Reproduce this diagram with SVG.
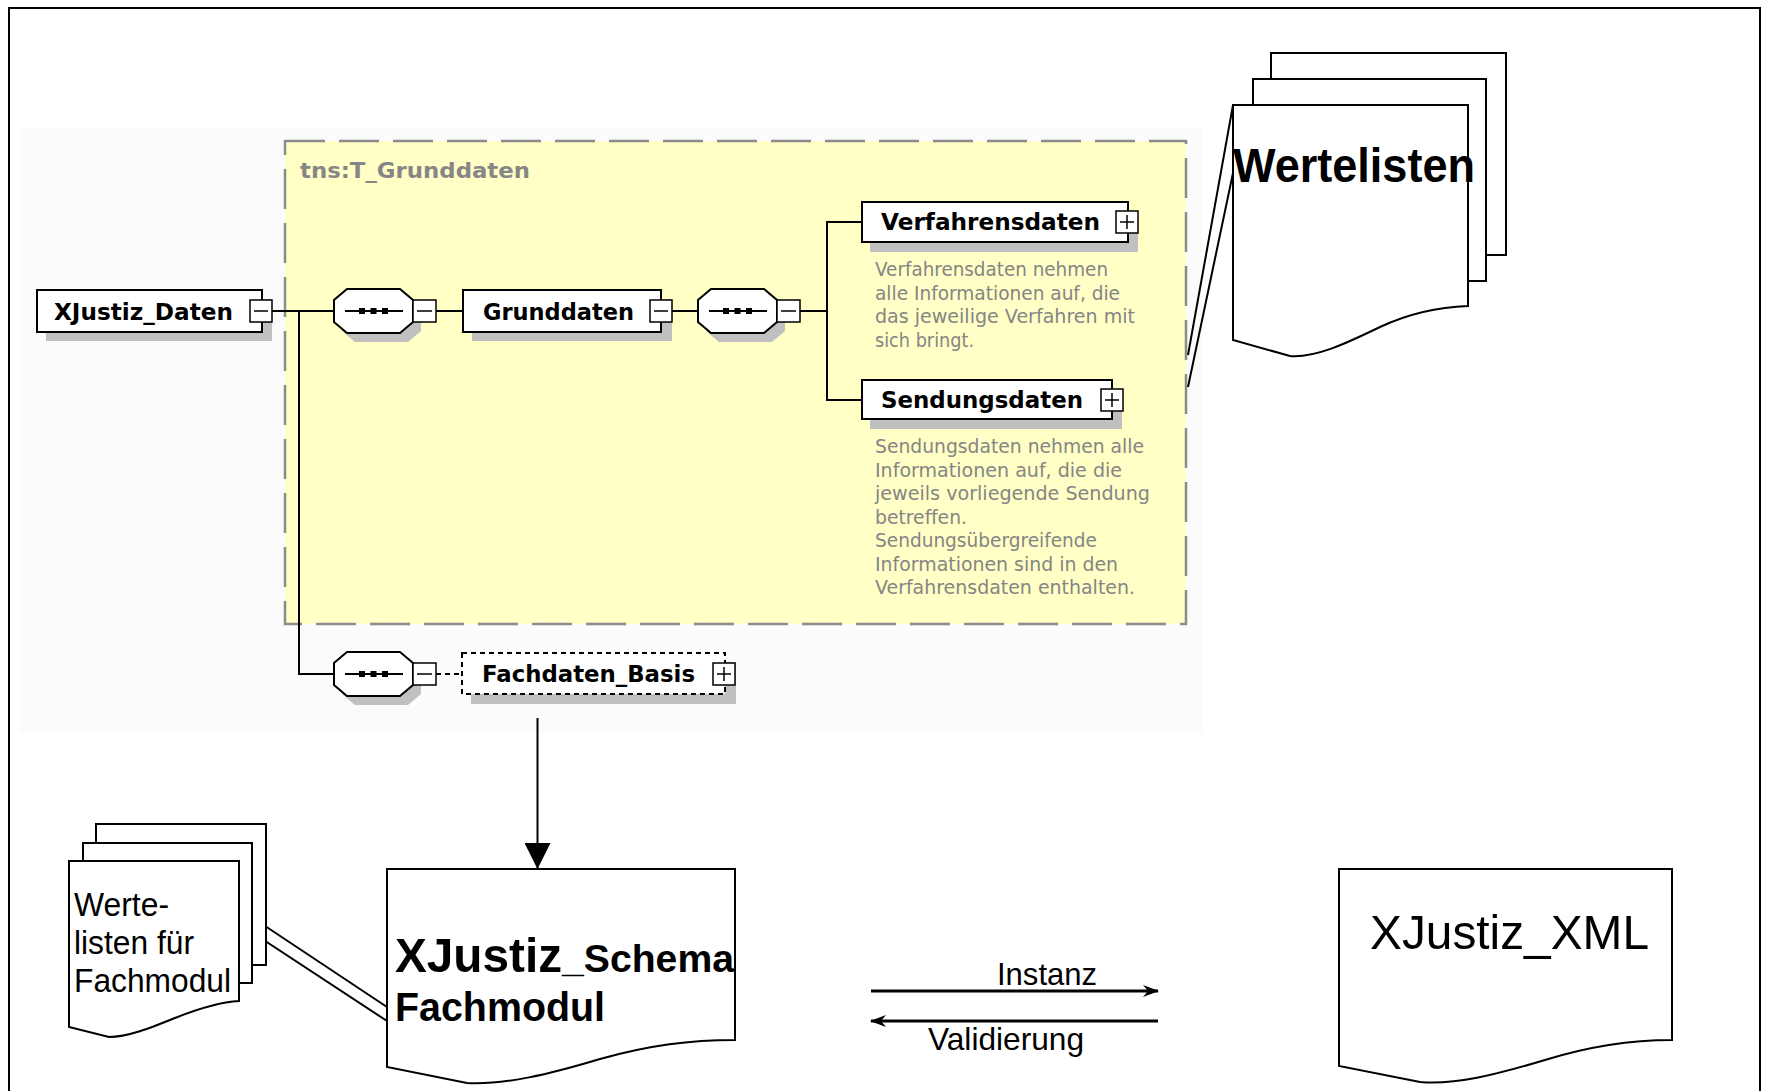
<svg xmlns="http://www.w3.org/2000/svg" xmlns:xlink="http://www.w3.org/1999/xlink" width="1768" height="1091" viewBox="0 0 1768 1091">
<style>
.ln{stroke:#000;stroke-width:2;fill:none}
.box{fill:#fff;stroke:#000;stroke-width:2}
.shd{fill:#c0c0c0;stroke:none}
.btn{fill:#fff;stroke:#000;stroke-width:1.5}
.el{font-family:"DejaVu Sans",Verdana,sans-serif;font-weight:bold;font-size:23px;fill:#000}
.doc{font-family:"DejaVu Sans",Verdana,sans-serif;font-size:19px;fill:#858585}
.page{fill:#fff;stroke:#000;stroke-width:2}
.big{font-family:"Liberation Sans",Arial,sans-serif;fill:#000}
</style>
<defs>
<marker id="barb" viewBox="0 0 16 12" refX="15" refY="6" markerWidth="16" markerHeight="12" markerUnits="userSpaceOnUse" orient="auto">
<path d="M0,0 L16,6 L0,12 L5,6 Z" fill="#000"/>
</marker>
<marker id="tri" viewBox="0 0 26 26" refX="26" refY="13" markerWidth="26" markerHeight="26" markerUnits="userSpaceOnUse" orient="auto">
<path d="M0,0 L26,13 L0,26 Z" fill="#000"/>
</marker>
<g id="seq">
<polygon class="shd" points="21,9 74,9 87,20 87,42 74,53 21,53 8,42 8,20"/>
<polygon fill="#fff" stroke="#000" stroke-width="2" points="13,0 66,0 79,11 79,33 66,44 13,44 0,33 0,11"/>
<line x1="11" y1="22" x2="69" y2="22" stroke="#000" stroke-width="2"/>
<rect x="25" y="19" width="6" height="6" fill="#000"/>
<rect x="36.5" y="19" width="6" height="6" fill="#000"/>
<rect x="48" y="19" width="6" height="6" fill="#000"/>
<rect class="btn" x="79" y="11" width="23" height="22"/>
<line x1="83" y1="22" x2="98" y2="22" stroke="#000" stroke-width="1.5"/>
</g>
</defs>

<rect x="0" y="0" width="1768" height="1091" fill="#fff"/>
<rect id="frame" x="9" y="8" width="1751" height="1095" fill="none" stroke="#000" stroke-width="2"/>
<rect x="20" y="128" width="1182" height="605" fill="#fbfbfb"/>

<g id="T_Grunddaten">
<rect x="285" y="141" width="901" height="483" fill="#ffffc6" stroke="#8c8c8c" stroke-width="2.5" stroke-dasharray="40 14"/>
<text x="300" y="178" font-family="DejaVu Sans,Verdana,sans-serif" font-weight="bold" font-size="22" fill="#868686" textLength="230" lengthAdjust="spacingAndGlyphs">tns:T_Grunddaten</text>
</g>

<g id="connectors">
<line class="ln" x1="272" y1="311" x2="334" y2="311"/>
<polyline class="ln" points="299,311 299,674 334,674"/>
<line class="ln" x1="436" y1="311" x2="463" y2="311"/>
<line class="ln" x1="672" y1="311" x2="698" y2="311"/>
<line class="ln" x1="800" y1="311" x2="827" y2="311"/>
<polyline class="ln" points="862,222 827,222 827,400 862,400"/>
<line class="ln" x1="436" y1="674" x2="462" y2="674" stroke-dasharray="5 4"/>
<line class="ln" x1="537.5" y1="718" x2="537.5" y2="869" marker-end="url(#tri)"/>
<line class="ln" x1="1188" y1="355" x2="1233" y2="105"/>
<line class="ln" x1="1188" y1="387" x2="1233" y2="173"/>
<line class="ln" x1="250" y1="916" x2="387" y2="1007"/>
<line class="ln" x1="250" y1="931" x2="387" y2="1021"/>
<line x1="871" y1="991" x2="1158" y2="991" stroke="#000" stroke-width="3" marker-end="url(#barb)"/>
<line x1="1158" y1="1021" x2="871" y2="1021" stroke="#000" stroke-width="3" marker-end="url(#barb)"/>
</g>

<g id="XJustiz_Daten">
<rect class="shd" x="46" y="299" width="226" height="42"/>
<rect class="box" x="37" y="290" width="225" height="42"/>
<rect class="btn" x="250" y="300" width="22" height="22"/>
<line x1="254" y1="311" x2="268" y2="311" stroke="#000" stroke-width="1.5"/>
<text class="el" x="54" y="320" textLength="179" lengthAdjust="spacingAndGlyphs">XJustiz_Daten</text>
</g>

<g id="seq1"><use xlink:href="#seq" href="#seq" x="334" y="289"/></g>

<g id="Grunddaten">
<rect class="shd" x="472" y="299" width="200" height="42"/>
<rect class="box" x="463" y="290" width="198" height="42"/>
<rect class="btn" x="650" y="300" width="22" height="22"/>
<line x1="654" y1="311" x2="668" y2="311" stroke="#000" stroke-width="1.5"/>
<text class="el" x="483" y="320" textLength="151" lengthAdjust="spacingAndGlyphs">Grunddaten</text>
</g>

<g id="seq2"><use xlink:href="#seq" href="#seq" x="698" y="289"/></g>

<g id="Verfahrensdaten">
<rect class="shd" x="870" y="211" width="268" height="41"/>
<rect class="box" x="862" y="202" width="266" height="40"/>
<rect class="btn" x="1116" y="211" width="22" height="22"/>
<line x1="1120" y1="222" x2="1134" y2="222" stroke="#000" stroke-width="1.5"/>
<line x1="1127" y1="215" x2="1127" y2="229" stroke="#000" stroke-width="1.5"/>
<text class="el" x="881" y="230" textLength="219" lengthAdjust="spacingAndGlyphs">Verfahrensdaten</text>
<text class="doc" x="875" y="276" textLength="233" lengthAdjust="spacingAndGlyphs">Verfahrensdaten nehmen</text>
<text class="doc" x="875" y="299.5" textLength="245" lengthAdjust="spacingAndGlyphs">alle Informationen auf, die</text>
<text class="doc" x="875" y="323" textLength="260" lengthAdjust="spacingAndGlyphs">das jeweilige Verfahren mit</text>
<text class="doc" x="875" y="346.5" textLength="99" lengthAdjust="spacingAndGlyphs">sich bringt.</text>
</g>

<g id="Sendungsdaten">
<rect class="shd" x="870" y="389" width="252" height="40"/>
<rect class="box" x="862" y="380" width="250" height="39"/>
<rect class="btn" x="1101" y="389" width="22" height="22"/>
<line x1="1105" y1="400" x2="1119" y2="400" stroke="#000" stroke-width="1.5"/>
<line x1="1112" y1="393" x2="1112" y2="407" stroke="#000" stroke-width="1.5"/>
<text class="el" x="881" y="408" textLength="202" lengthAdjust="spacingAndGlyphs">Sendungsdaten</text>
<text class="doc" x="875" y="453" textLength="269" lengthAdjust="spacingAndGlyphs">Sendungsdaten nehmen alle</text>
<text class="doc" x="875" y="476.5" textLength="247" lengthAdjust="spacingAndGlyphs">Informationen auf, die die</text>
<text class="doc" x="875" y="500" textLength="275" lengthAdjust="spacingAndGlyphs">jeweils vorliegende Sendung</text>
<text class="doc" x="875" y="523.5" textLength="92" lengthAdjust="spacingAndGlyphs">betreffen.</text>
<text class="doc" x="875" y="547" textLength="222" lengthAdjust="spacingAndGlyphs">Sendungsübergreifende</text>
<text class="doc" x="875" y="570.5" textLength="243" lengthAdjust="spacingAndGlyphs">Informationen sind in den</text>
<text class="doc" x="875" y="594" textLength="260" lengthAdjust="spacingAndGlyphs">Verfahrensdaten enthalten.</text>
</g>

<g id="seq3"><use xlink:href="#seq" href="#seq" x="334" y="652"/></g>

<g id="Fachdaten_Basis">
<rect class="shd" x="471" y="662" width="265" height="42"/>
<rect x="462" y="653" width="263" height="41" fill="#fff" stroke="#000" stroke-width="2" stroke-dasharray="5 4"/>
<rect class="btn" x="713" y="663" width="22" height="22"/>
<line x1="717" y1="674" x2="731" y2="674" stroke="#000" stroke-width="1.5"/>
<line x1="724" y1="667" x2="724" y2="681" stroke="#000" stroke-width="1.5"/>
<text class="el" x="482" y="682" textLength="213" lengthAdjust="spacingAndGlyphs">Fachdaten_Basis</text>
</g>

<g id="Wertelisten">
<rect class="page" x="1271" y="53" width="235" height="202"/>
<rect class="page" x="1253" y="79" width="233" height="202"/>
<path class="page" d="M1233,105 L1468,105 L1468,306 C1440,307 1410,313 1380,327 C1345,344 1315,358 1290,356 L1233,340 Z"/>
<text class="big" x="1233" y="182" font-size="48" font-weight="bold" textLength="242" lengthAdjust="spacingAndGlyphs">Wertelisten</text>
</g>

<g id="Wertelisten_Fachmodul">
<rect class="page" x="96" y="824" width="170" height="141"/>
<rect class="page" x="83" y="843" width="169" height="140"/>
<path class="page" d="M69,861 L239,861 L239,1001 C220,1002 200,1008 175,1018 C150,1028 128,1037 109,1037 L69,1027 Z"/>
<text class="big" x="74" y="916" font-size="34" textLength="95" lengthAdjust="spacingAndGlyphs">Werte-</text>
<text class="big" x="74" y="954" font-size="34" textLength="120" lengthAdjust="spacingAndGlyphs">listen für</text>
<text class="big" x="74" y="992" font-size="34" textLength="157" lengthAdjust="spacingAndGlyphs">Fachmodul</text>
</g>

<g id="XJustiz_Schema">
<path class="page" d="M387,869 L735,869 L735,1040 C690,1040 650,1045 600,1059 C550,1074 505,1085 467,1083 L387,1067 Z"/>
<text class="big" x="395" y="972" font-weight="bold"><tspan font-size="49" textLength="167" lengthAdjust="spacingAndGlyphs">XJustiz</tspan><tspan font-size="38" textLength="172" lengthAdjust="spacingAndGlyphs">_Schema</tspan></text>
<text class="big" x="395" y="1021" font-size="41" font-weight="bold" textLength="210" lengthAdjust="spacingAndGlyphs">Fachmodul</text>
</g>

<g id="XJustiz_XML">
<path class="page" d="M1339,869 L1672,869 L1672,1040 C1630,1040 1590,1046 1545,1060 C1495,1075 1455,1085 1420,1082 L1339,1066 Z"/>
<text class="big" x="1370" y="949" font-size="49" textLength="279" lengthAdjust="spacingAndGlyphs">XJustiz_XML</text>
</g>

<g id="labels">
<text class="big" x="997" y="985" font-size="32" textLength="100" lengthAdjust="spacingAndGlyphs">Instanz</text>
<text class="big" x="928" y="1050" font-size="32" textLength="156" lengthAdjust="spacingAndGlyphs">Validierung</text>
</g>
</svg>
